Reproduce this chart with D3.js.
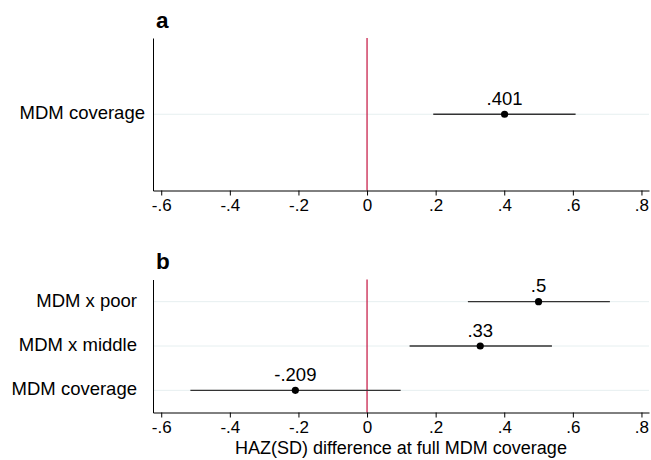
<!DOCTYPE html>
<html>
<head>
<meta charset="utf-8">
<script src="https://cdn.jsdelivr.net/npm/d3@7"></script>
<style>
  body { margin: 0; background: #fff; }
  svg { font-family: "Liberation Sans", Arial, sans-serif; }
  .axis .domain { stroke: #000; }
  .axis line { stroke: #000; }
  .axis text { fill: #000; }
</style>
</head>
<body>
<script>
var width = 651,
  height = 460;

// panel a
var labelsA = ['MDM coverage'];
var estA = [0.401];
var loA = [0.193];
var hiA = [0.608];
var textA = ['.401'];

// panel b
var labelsB = ['MDM x poor', 'MDM x middle', 'MDM coverage'];
var estB = [0.5, 0.33, -0.209];
var loB = [0.294, 0.124, -0.515];
var hiB = [0.708, 0.539, 0.098];
var textB = ['.5', '.33', '-.209'];

var xTicks = [-0.6, -0.4, -0.2, 0, 0.2, 0.4, 0.6, 0.8];

// stata style: plain hyphen and no leading zero
var fmt = d3.formatLocale({ decimal: '.', thousands: ',', grouping: [3], currency: ['', ''], minus: '-' }).format('.1f');
function stataFmt(d) {
  if (d === 0) return '0';
  return fmt(d).replace('0.', '.');
}

var x = d3.scaleLinear()
  .domain([-0.624, 0.822])
  .range([153, 649]);

var svg = d3.select('body').append('svg')
  .attr('width', width)
  .attr('height', height);

function panel(opts) {
  var n = opts.labels.length;
  var y = d3.scaleLinear()
    .domain([0.5, n + 0.5])
    .range([opts.top, opts.bottom]);

  var g = svg.append('g');

  // light gridlines at each row
  g.selectAll('line.grid')
    .data(opts.labels)
    .enter().append('line')
      .attr('class', 'grid')
      .attr('x1', x.range()[0])
      .attr('x2', x.range()[1])
      .attr('y1', function(d, i) { return y(i + 1); })
      .attr('y2', function(d, i) { return y(i + 1); })
      .attr('stroke', '#e6eff0')
      .attr('stroke-width', 1);

  // zero reference line
  g.append('line')
    .attr('x1', x(0)).attr('x2', x(0))
    .attr('y1', opts.top).attr('y2', opts.bottom)
    .attr('stroke', '#c4113d')
    .attr('stroke-width', 1.2);

  var xAxis = d3.axisBottom(x)
    .tickValues(xTicks)
    .tickSize(5)
    .tickSizeOuter(0)
    .tickPadding(3)
    .tickFormat(stataFmt);

  g.append('g')
    .attr('class', 'axis')
    .attr('transform', 'translate(0,' + opts.bottom + ')')
    .call(xAxis)
    .selectAll('text')
      .attr('font-size', '17px');

  var yAxis = d3.axisLeft(y)
    .tickValues(d3.range(1, n + 1))
    .tickSize(0)
    .tickSizeOuter(0)
    .tickPadding(opts.pad)
    .tickFormat(function(d) { return opts.labels[d - 1]; });

  var ya = g.append('g')
    .attr('class', 'axis')
    .attr('transform', 'translate(' + x.range()[0] + ',0)')
    .call(yAxis);
  ya.selectAll('text')
    .attr('font-size', '18.5px')
    .attr('dy', '0.25em');

  // confidence intervals
  g.selectAll('line.ci')
    .data(opts.est)
    .enter().append('line')
      .attr('class', 'ci')
      .attr('x1', function(d, i) { return x(opts.lo[i]); })
      .attr('x2', function(d, i) { return x(opts.hi[i]); })
      .attr('y1', function(d, i) { return y(i + 1); })
      .attr('y2', function(d, i) { return y(i + 1); })
      .attr('stroke', '#333')
      .attr('stroke-width', 1.3);

  g.selectAll('circle.pt')
    .data(opts.est)
    .enter().append('circle')
      .attr('class', 'pt')
      .attr('cx', function(d) { return x(d); })
      .attr('cy', function(d, i) { return y(i + 1); })
      .attr('r', 3.6)
      .attr('fill', '#000');

  g.selectAll('text.val')
    .data(opts.est)
    .enter().append('text')
      .attr('class', 'val')
      .attr('x', function(d) { return x(d); })
      .attr('y', function(d, i) { return y(i + 1) - 9.5; })
      .attr('text-anchor', 'middle')
      .attr('font-size', '18.5px')
      .text(function(d, i) { return opts.text[i]; });

  svg.append('text')
    .attr('x', 156)
    .attr('y', opts.titleY)
    .attr('font-size', '22.5px')
    .attr('font-weight', 'bold')
    .text(opts.title);
}

panel({
  labels: labelsA, est: estA, lo: loA, hi: hiA, text: textA,
  top: 38, bottom: 190.5, pad: 8, title: 'a', titleY: 27.5
});

panel({
  labels: labelsB, est: estB, lo: loB, hi: hiB, text: textB,
  top: 279.5, bottom: 412.5, pad: 16, title: 'b', titleY: 268.5
});

svg.append('text')
  .attr('x', (x.range()[0] + x.range()[1]) / 2)
  .attr('y', 453.5)
  .attr('text-anchor', 'middle')
  .attr('font-size', '18px')
  .text('HAZ(SD) difference at full MDM coverage');
</script>
</body>
</html>
